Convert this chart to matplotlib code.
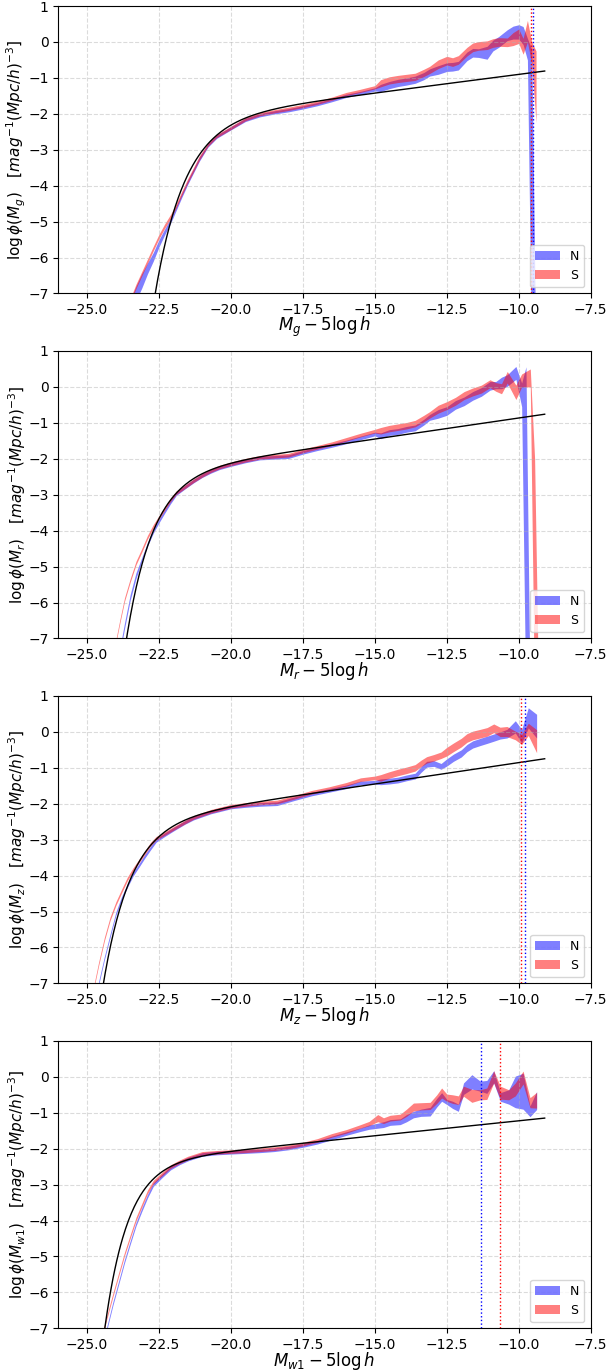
import numpy as np
import matplotlib
matplotlib.use("Agg")
import matplotlib.pyplot as plt

# ---------------- datos ----------------
# banda g
mag_g = [-23.45, -23.3, -23.1, -22.9, -22.7, -22.5, -22.3, -22.1, -21.9, -21.7, -21.5, -21.3, -21.1,
         -20.8, -20.5, -20.0, -19.5, -19.0, -18.5, -18.0, -17.5, -17.0, -16.5, -16.0, -15.5, -15.0,
         -14.8, -14.5, -14.2, -13.9, -13.6, -13.3, -13.1, -12.8, -12.5, -12.3, -12.1, -11.8, -11.6,
         -11.4, -11.1, -10.9, -10.7, -10.4, -10.2, -10.0, -9.85, -9.7]
mag_g_N = mag_g + [-9.55, -9.4]
mag_g_S = mag_g + [-9.55, -9.4]
phi_g_S = [-7.1, -6.8, -6.45, -6.1, -5.75, -5.41, -5.12, -4.86, -4.55, -4.2, -3.86, -3.55, -3.23,
           -2.86, -2.62, -2.39, -2.15, -2.01, -1.93, -1.86, -1.78, -1.69, -1.58, -1.45, -1.36, -1.26,
           -1.15, -1.07, -1.03, -1.0, -0.97, -0.86, -0.78, -0.62, -0.52, -0.56, -0.5, -0.27, -0.15,
           -0.11, -0.09, -0.03, 0.0, -0.01, 0.08, 0.16, -0.12, 0.3, -0.3, -1.25]
err_g_S = [0.06] * 13 + [0.045] * 13 + [0.1] * 7 + [0.12] * 11 + [0.18, 0.2, 0.22, 0.3, 0.3, 1.0]
phi_g_N = [-7.35, -7.0, -6.65, -6.3, -5.98, -5.6, -5.28, -4.98, -4.62, -4.25, -3.9, -3.58, -3.26,
           -2.88, -2.64, -2.4, -2.17, -2.04, -1.96, -1.9, -1.82, -1.73, -1.62, -1.5, -1.42, -1.32,
           -1.28, -1.2, -1.14, -1.1, -1.05, -0.95, -0.85, -0.78, -0.7, -0.69, -0.66, -0.4, -0.3,
           -0.31, -0.3, -0.1, 0.0, 0.19, 0.26, 0.28, 0.18, -0.2, -4.6, -9.0]
err_g_N = [0.25, 0.2, 0.2, 0.15, 0.12, 0.1, 0.08, 0.07, 0.06, 0.06, 0.06, 0.06, 0.06] + [0.045] * 13 + \
          [0.1] * 7 + [0.12] * 7 + [0.18, 0.15, 0.15, 0.15, 0.18, 0.2, 0.25, 0.3, 4.4, 0.0]

# banda r
mag_r = [-24.0, -23.85, -23.7, -23.5, -23.3, -23.1, -22.9, -22.7, -22.5, -22.3, -22.1, -21.9, -21.6,
         -21.3, -21.0, -20.7, -20.4, -20.0, -19.5, -19.0, -18.5, -18.0, -17.5, -17.0, -16.5, -16.0,
         -15.5, -15.0, -14.8, -14.5, -14.2, -13.9, -13.6, -13.3, -13.1, -12.8, -12.5, -12.2, -11.9,
         -11.6, -11.3, -11.0, -10.8, -10.6, -10.4, -10.1, -9.9]
mag_r_N = mag_r + [-9.75, -9.6]
mag_r_S = mag_r + [-9.6, -9.45, -9.3]
phi_r_S = [-7.08, -6.48, -5.92, -5.38, -4.9, -4.55, -4.18, -3.88, -3.63, -3.38, -3.14, -2.94, -2.78,
           -2.61, -2.46, -2.33, -2.23, -2.14, -2.04, -1.96, -1.93, -1.9, -1.78, -1.68, -1.58, -1.46,
           -1.34, -1.23, -1.22, -1.16, -1.12, -1.08, -1.02, -0.88, -0.78, -0.62, -0.52, -0.4, -0.24,
           -0.14, -0.06, 0.09, 0.0, -0.05, 0.27, -0.15, 0.18, 0.25, -5.5, -9.0]
err_r_S = [0.05] * 28 + [0.09] * 7 + [0.11] * 7 + [0.12, 0.14, 0.16, 0.2, 0.18, 0.25, 3.5, 0.0]
phi_r_N = [-7.8, -7.3, -6.65, -5.85, -5.25, -4.8, -4.38, -4.02, -3.73, -3.46, -3.2, -2.97, -2.79,
           -2.62, -2.47, -2.35, -2.25, -2.16, -2.06, -1.98, -1.96, -1.94, -1.82, -1.72, -1.63, -1.53,
           -1.42, -1.31, -1.36, -1.27, -1.24, -1.18, -1.14, -0.98, -0.85, -0.75, -0.67, -0.5, -0.4,
           -0.25, -0.14, 0.03, 0.05, 0.11, 0.18, 0.39, -0.22, -4.22, -9.0]
err_r_N = [0.08] * 5 + [0.05] * 23 + [0.08] * 7 + [0.12] * 7 + [0.1, 0.16, 0.16, 0.18, 0.33, 4.78, 0.0]

# banda z
mag_z = [-24.8, -24.6, -24.4, -24.2, -24.0, -23.8, -23.6, -23.4, -23.2, -23.0, -22.8, -22.6, -22.3,
         -22.0, -21.6, -21.3, -20.7, -20.0, -19.5, -19.0, -18.4, -17.8, -17.2, -16.6, -16.0, -15.5,
         -15.0, -14.8, -14.5, -14.2, -13.9, -13.6, -13.4, -13.2, -12.95, -12.7, -12.5, -12.27, -12.0,
         -11.8, -11.6, -11.34, -11.1, -10.87, -10.65, -10.41, -10.12, -9.9, -9.67, -9.38]
phi_z_S = [-7.23, -6.46, -5.77, -5.2, -4.78, -4.43, -4.09, -3.83, -3.6, -3.37, -3.13, -2.96, -2.83,
           -2.69, -2.51, -2.38, -2.21, -2.07, -2.02, -1.98, -1.95, -1.82, -1.68, -1.58, -1.46, -1.33,
           -1.28, -1.28, -1.2, -1.13, -1.07, -1.0, -0.88, -0.78, -0.72, -0.65, -0.55, -0.43, -0.3,
           -0.17, -0.1, -0.05, 0.0, 0.1, 0.0, 0.01, -0.1, -0.21, 0.07, -0.26]
err_z_S = [0.05] * 27 + [0.09] * 9 + [0.12] * 8 + [0.13, 0.14, 0.12, 0.14, 0.17, 0.32]
phi_z_N = [-7.7, -7.0, -6.3, -5.67, -5.06, -4.63, -4.28, -3.96, -3.72, -3.47, -3.24, -3.02, -2.86,
           -2.71, -2.52, -2.4, -2.23, -2.09, -2.05, -2.02, -2.0, -1.86, -1.73, -1.63, -1.53, -1.42,
           -1.4, -1.39, -1.37, -1.34, -1.28, -1.23, -1.05, -0.9, -0.88, -0.96, -0.85, -0.72, -0.6,
           -0.45, -0.35, -0.28, -0.22, -0.16, -0.1, -0.05, 0.14, -0.12, 0.39, 0.16]
err_z_N = [0.05] * 27 + [0.08] * 9 + [0.1] * 8 + [0.1, 0.12, 0.17, 0.19, 0.28, 0.33]

# banda w1
mag_w1 = [-24.5, -24.3, -24.1, -23.9, -23.7, -23.5, -23.3, -23.1, -22.9, -22.7, -22.4, -22.1, -21.8,
          -21.5, -21.0, -20.5, -20.0, -19.5, -19.0, -18.5, -18.0, -17.5, -17.0, -16.5, -16.0, -15.5,
          -15.2, -14.9, -14.7, -14.47, -14.12, -13.9, -13.66, -13.4, -13.08, -12.85, -12.68, -12.5,
          -12.3, -12.1, -11.92, -11.63, -11.34, -11.11, -10.87, -10.64, -10.35, -10.12, -9.85, -9.61,
          -9.38]
phi_w1_S = [-7.25, -6.65, -6.06, -5.49, -4.93, -4.44, -3.96, -3.58, -3.2, -2.93, -2.71, -2.5, -2.37,
            -2.26, -2.13, -2.1, -2.08, -2.06, -2.03, -2.0, -1.95, -1.87, -1.77, -1.63, -1.52, -1.38,
            -1.3, -1.15, -1.22, -1.15, -1.12, -1.0, -0.84, -0.82, -0.81, -0.62, -0.45, -0.58,
            -0.62, -0.65, -0.4, -0.53, -0.5, -0.47, 0.0, -0.44, -0.5, -0.35, -0.02, -0.72, -0.65]
err_w1_S = [0.05] * 26 + [0.06, 0.1, 0.08, 0.08, 0.08, 0.1, 0.11, 0.1, 0.1, 0.12, 0.14, 0.1,
            0.12, 0.12, 0.14, 0.18, 0.14, 0.16, 0.17, 0.18, 0.14, 0.18, 0.18, 0.14, 0.22]
phi_w1_N = [-7.6, -6.95, -6.3, -5.72, -5.13, -4.61, -4.1, -3.7, -3.32, -3.0, -2.76, -2.54, -2.4,
            -2.29, -2.16, -2.12, -2.1, -2.08, -2.06, -2.03, -1.98, -1.91, -1.82, -1.7, -1.58, -1.47,
            -1.4, -1.36, -1.33, -1.27, -1.25, -1.15, -1.05, -1.0, -0.97, -0.72, -0.56, -0.7,
            -0.78, -0.86, -0.33, -0.14, -0.26, -0.28, 0.0, -0.56, -0.56, -0.42, -0.4, -0.96, -0.66]
err_w1_N = [0.05] * 26 + [0.06, 0.07, 0.08, 0.08, 0.08, 0.1, 0.09, 0.1, 0.12, 0.12, 0.12, 0.07,
            0.1, 0.1, 0.16, 0.2, 0.14, 0.18, 0.17, 0.12, 0.2, 0.44, 0.5, 0.15, 0.25]

# ajuste tipo Schechter (M*, alpha, beta, log phi*) y cortes de magnitud (N, S)
mstar = [-20.15, -21.46, -22.24, -22.49]
alpha = [-1.259, -1.2925, -1.2975, -1.208]
beta = [1.05, 1.175, 1.15, 1.35]
logphistar = [-1.918, -2.17, -2.276, -2.227]
corte_N = [-9.49, None, -9.79, -11.30]
corte_S = [-9.58, None, -9.93, -10.64]

bandas = ['g', 'r', 'z', 'w1']
datos = [
    (mag_g_N, phi_g_N, err_g_N, mag_g_S, phi_g_S, err_g_S),
    (mag_r_N, phi_r_N, err_r_N, mag_r_S, phi_r_S, err_r_S),
    (mag_z, phi_z_N, err_z_N, mag_z, phi_z_S, err_z_S),
    (mag_w1, phi_w1_N, err_w1_N, mag_w1, phi_w1_S, err_w1_S),
]


def log_schechter(M, Ms, a, b, lphis):
    u = 0.4 * (Ms - M)
    return np.log10(0.4 * np.log(10)) + lphis + u * (a + 1) - 10 ** (b * u) / np.log(10)


fig, axs = plt.subplots(4, 1, figsize=(6.06, 13.71), dpi=100)
plt.subplots_adjust(left=0.0962, right=0.9748, top=0.9956, bottom=0.0311, hspace=0.2)

Mfit = np.linspace(-26.0, -9.1, 500)
for i, ax in enumerate(axs):
    mN, pN, eN, mS, pS, eS = datos[i]
    pN = np.array(pN); eN = np.array(eN)
    pS = np.array(pS); eS = np.array(eS)
    ax.fill_between(mN, pN - eN, pN + eN, color='b', alpha=0.5, lw=0, label='N')
    ax.fill_between(mS, pS - eS, pS + eS, color='r', alpha=0.5, lw=0, label='S')
    ax.plot(Mfit, log_schechter(Mfit, mstar[i], alpha[i], beta[i], logphistar[i]), 'k-', lw=1)
    if corte_N[i] is not None:
        ax.axvline(corte_N[i], color='b', ls=':', lw=1)
        ax.axvline(corte_S[i], color='r', ls=':', lw=1)
    ax.set_xlim(-26.0, -7.5)
    ax.set_ylim(-7, 1)
    ax.set_xticks([-25.0, -22.5, -20.0, -17.5, -15.0, -12.5, -10.0, -7.5])
    ax.grid(ls='--', alpha=0.45)
    ax.legend(loc='lower right', fontsize=9)
    b = bandas[i]
    ax.set_xlabel(r'$M_{%s}-5\log h$' % b, fontsize=12, labelpad=-1.5)
    ax.set_ylabel(r'$\log\phi(M_{%s})\quad[mag^{-1}(Mpc/h)^{-3}]$' % b, fontsize=11, labelpad=0)

plt.savefig('out.png', dpi=100)
